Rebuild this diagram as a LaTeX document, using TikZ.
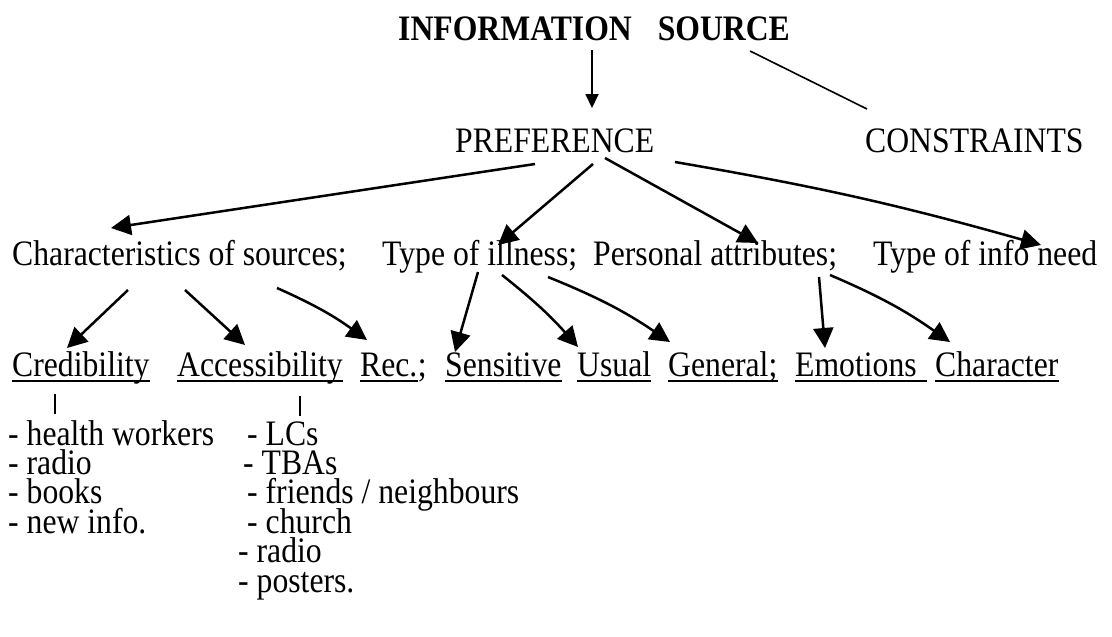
\documentclass[tikz,border=0pt]{standalone}
\usepackage{fontspec}
\usepackage{graphicx}
\setmainfont{Liberation Serif}
\usetikzlibrary{arrows.meta}
% slightly tall lettering
\newcommand{\tall}[1]{\scalebox{1}[1.13]{#1}}
% stacked list lines, first baseline on top, fixed spacing
\newcommand{\stacklines}[1]{\vtop{\baselineskip=29.4pt\lineskiplimit=-40pt\lineskip=0pt\relax #1}}
\newcommand{\listline}[2][0pt]{\hbox{\hspace*{#1}\tall{#2}}}
\tikzset{
  txt/.style={inner sep=0pt, anchor=base west, font=\fontsize{31.7}{38}\selectfont},
  arr/.style={line width=2.5pt, -{Triangle[length=20pt,width=20pt]}},
  thinarr/.style={line width=1.8pt, -{Triangle[length=14pt,width=13pt]}},
  plain/.style={line width=1.6pt},
  bar/.style={line width=2.4pt},
  ulstyle/.style={line width=1.4pt}
}
\begin{document}
\begin{tikzpicture}[x=1pt,y=-1pt]
\useasboundingbox[fill=white] (0,0) rectangle (1112,637);

% top levels
\node[txt] (src) at (398,40) {\tall{\bfseries INFORMATION\hspace{26pt}SOURCE}};
\node[txt] (pref) at (455,152) {\tall{PREFERENCE}};
\node[txt] (cons) at (865,152) {\tall{CONSTRAINTS}};

% factors
\node[txt] (chars) at (12,265) {\tall{Characteristics of sources;}};
\node[txt] (ill) at (382,265) {\tall{Type of illness;}};
\node[txt] (pers) at (593,265) {\tall{Personal attributes;}};
\node[txt] (need) at (873,265) {\tall{Type of info need}};

% sub-factors
\node[txt] (cred) at (12,376) {\tall{Credibility}};
\node[txt] (acc) at (177,376) {\tall{Accessibility}};
\node[txt] (rec) at (360,376) {\tall{Rec.}};
\node[txt] (recsemi) at (rec.base east) {\tall{;}};
\node[txt] (sens) at (445,376) {\tall{Sensitive}};
\node[txt] (usual) at (577,376) {\tall{Usual}};
\node[txt] (gen) at (668,376) {\tall{General;}};
\node[txt] (emo) at (795,376) {\tall{Emotions}};
\node[txt] (charac) at (935,376) {\tall{Character}};

% underlines
\foreach \n in {cred,acc,rec,sens,usual,gen,charac}
  \draw[ulstyle] ([yshift=-5pt]\n.base west) -- ([yshift=-5pt]\n.base east);
\draw[ulstyle] ([yshift=-5pt]emo.base west) -- ([xshift=10pt,yshift=-5pt]emo.base east);

% lists of sources
\node[txt] (credlist) at (8,445) {\stacklines{%
  \listline{- health workers}
  \listline{- radio}
  \listline{- books}
  \listline{- new info.}}};
\node[txt] (acclist) at (238,445) {\stacklines{%
  \listline[9pt]{- LCs}
  \listline[5pt]{- TBAs}
  \listline[9pt]{- friends / neighbours}
  \listline[9pt]{- church}
  \listline{- radio}
  \listline{- posters.}}};

% connector end points
\coordinate (srcB) at (592,50);   \coordinate (prefT) at (592,108);
\coordinate (srcR) at (750,51);   \coordinate (consT) at (867,109);
\coordinate (p1) at (535,164);    \coordinate (charsT) at (111,228);
\coordinate (p2) at (593,164);    \coordinate (illT) at (498,245);
\coordinate (p3) at (605,158);    \coordinate (persT) at (758,243);
\coordinate (p4) at (675,162);    \coordinate (needT) at (1041,245);
\coordinate (c1) at (128,290);    \coordinate (credT) at (67,348);
\coordinate (c2) at (185,290);    \coordinate (accT) at (245,345);
\coordinate (c3) at (277,288);    \coordinate (recT) at (367,340);
\coordinate (i1) at (478,272);    \coordinate (sensT) at (455,352);
\coordinate (i2) at (502,275);    \coordinate (usualT) at (578,347);
\coordinate (i3) at (548,277);    \coordinate (genT) at (670,342);
\coordinate (a1) at (819,277);    \coordinate (emoT) at (825,348);
\coordinate (a2) at (830,275);    \coordinate (characT) at (950,342);
\coordinate (credB1) at (55,394); \coordinate (credB2) at (55,414);
\coordinate (accB1) at (300,396); \coordinate (accB2) at (300,416);

% connectors
\draw[thinarr] (srcB) -- (prefT);
\draw[plain] (srcR) -- (consT);
\draw[arr] (p1) -- (charsT);
\draw[arr] (p2) -- (illT);
\draw[arr] (p3) -- (persT);
\draw[arr] (p4) to[bend left=3] (needT);
\draw[arr] (c1) -- (credT);
\draw[arr] (c2) -- (accT);
\draw[arr] (c3) to[bend left=6] (recT);
\draw[arr] (i1) -- (sensT);
\draw[arr] (i2) to[bend left=5] (usualT);
\draw[arr] (i3) to[bend left=6] (genT);
\draw[arr] (a1) -- (emoT);
\draw[arr] (a2) to[bend left=6] (characT);
\draw[bar] (credB1) -- (credB2);
\draw[bar] (accB1) -- (accB2);
\end{tikzpicture}
\end{document}
